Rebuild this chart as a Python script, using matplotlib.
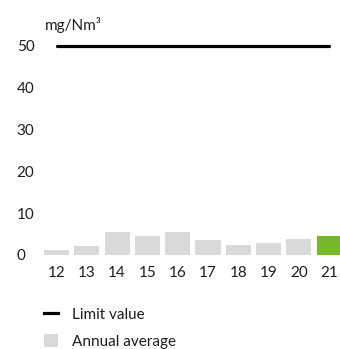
import matplotlib
matplotlib.use("Agg")
import matplotlib.pyplot as plt
from matplotlib.lines import Line2D
from matplotlib.patches import Patch

# annual averages, mg/Nm3
years = ["12", "13", "14", "15", "16", "17", "18", "19", "20", "21"]
annual = [1.2, 2.2, 5.5, 4.6, 5.5, 3.6, 2.5, 2.9, 3.8, 4.6]
limit = 50
yticks = [0, 10, 20, 30, 40, 50]

grey = "#d9d9d9"
green = "#76b82a"
txt = "#1e1e1e"

plt.rcParams["font.family"] = ["Lato", "DejaVu Sans"]
plt.rcParams["font.size"] = 11

W, H = 340, 349
fig = plt.figure(figsize=(W / 100, H / 100), dpi=100)
ax = fig.add_axes([40 / W, 94 / H, 300 / W, 230 / H])

x = list(range(len(years)))
colors = [grey] * (len(years) - 1) + [green]
ax.bar(x, annual, width=0.83, color=colors, zorder=2)
ax.plot([x[0], x[-1]], [limit, limit], color="black", lw=2.3, solid_capstyle="round", zorder=3)

ax.set_xlim(-0.545, 9.36)
ax.set_ylim(0, 55)
ax.set_xticks(x)
ax.set_xticklabels(years, color=txt)
ax.set_yticks(yticks)
ax.set_yticklabels([str(v) for v in yticks], ha="left", color=txt)
ax.tick_params(axis="x", length=0, pad=8)
ax.tick_params(axis="y", length=0, pad=16.8)
for s in ax.spines.values():
    s.set_visible(False)

fig.text(45 / W, 1 - 25 / H, "mg/Nm³", fontsize=11, color=txt, va="center", ha="left")

handles = [Line2D([0], [0], color="black", lw=2.3),
           Patch(facecolor=grey, edgecolor="none")]
fig.legend(handles, ["Limit value", "Annual average"], loc="upper left",
           bbox_to_anchor=(44 / W, 42 / H), frameon=False, borderpad=0,
           borderaxespad=0, handlelength=0.9, handleheight=1.0,
           handletextpad=0.95, labelspacing=0.75, labelcolor=txt)

fig.savefig("out.png", dpi=100)
